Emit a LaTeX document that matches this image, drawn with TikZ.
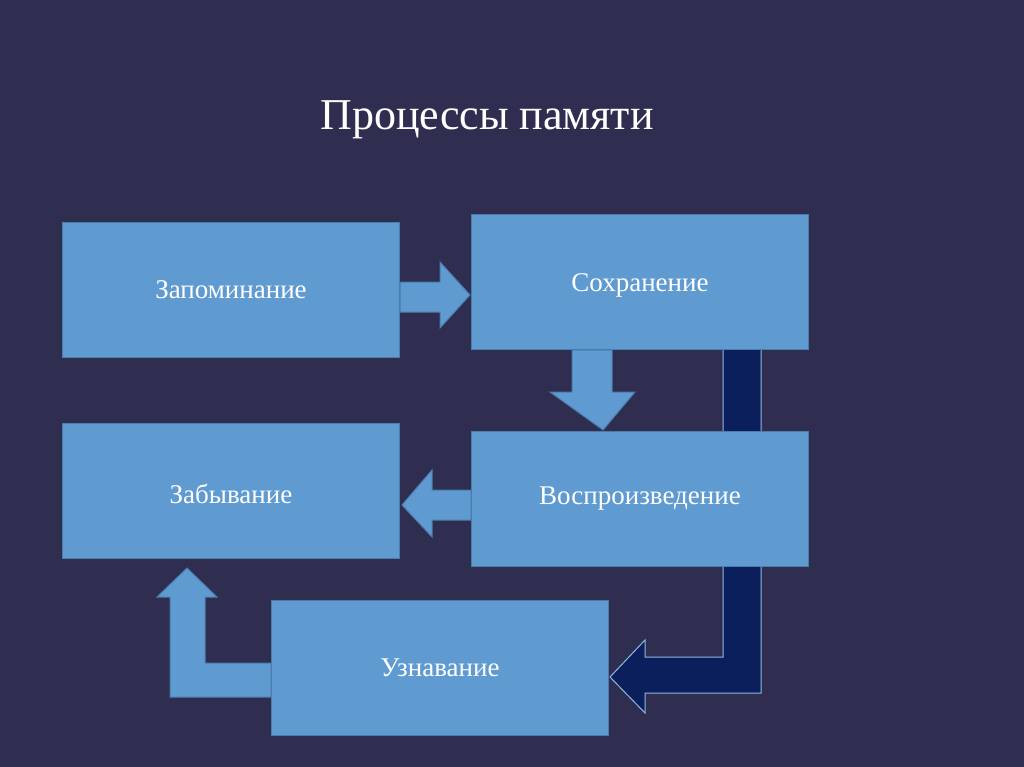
\documentclass[tikz,border=0pt]{standalone}
\usepackage{fontspec}
\setmainfont{Liberation Serif}
\usepackage{tikz}
\usetikzlibrary{calc}
\definecolor{bgnavy}{HTML}{2F2E50}
\definecolor{boxblue}{HTML}{5F9BD1}
\definecolor{boxedge}{HTML}{4A7CAD}
\definecolor{darkarrow}{HTML}{0B1F5C}
\tikzset{
  procbox/.style={draw=boxedge, line width=1pt, fill=boxblue, text=white,
    minimum width=337pt, minimum height=135pt, inner sep=0pt, font=\fontsize{27}{30}\selectfont},
  blockarrow/.style={draw=boxedge, line width=1pt, fill=boxblue},
  darkblock/.style={draw=boxblue!70, line width=1pt, fill=darkarrow}
}
\begin{document}
\begin{tikzpicture}[x=1pt,y=-1pt]
		\fill [bgnavy] (0,0) rectangle (1024,767);
		\useasboundingbox (0,0) rectangle (1024,767);
		
		\node [text=white, font=\fontsize{44}{48}\selectfont] (title) at (487,120) {Процессы памяти};
		
		% dark arrow behind the boxes
		\filldraw [darkblock] (723,345) -- (761,345) -- (761,693) -- (645,693) -- (645,713)
			-- (610,677) -- (645,640) -- (645,657) -- (723,657) -- cycle;
		
		\node [procbox] (zap) at (231,290) {Запоминание};
		\node [procbox] (soh) at (640,282) {};
		\node [procbox] (zab) at (231,491) {};
		\node [procbox] (vos) at (640,499) {Воспроизведение};
		\node [procbox] (uzn) at (440,668) {Узнавание};
		\node [text=white, font=\fontsize{27}{30}\selectfont] at (640,285) {Сохранение};
		\node [text=white, font=\fontsize{27}{30}\selectfont] at (231,494) {Забывание};
		
		% block arrows
		\filldraw [blockarrow] (zap.east |- 0,282) -- (440,282) -- (440,262) -- (470,295)
			-- (440,328) -- (440,312) -- (zap.east |- 0,312) -- cycle;
		\filldraw [blockarrow] (soh.south -| 572,0) -- (soh.south -| 612,0) -- (612,392) -- (635,392)
			-- (603,430) -- (550,392) -- (572,392) -- cycle;
		\filldraw [blockarrow] (vos.west |- 0,490) -- (432,490) -- (432,470) -- (402,505)
			-- (432,537) -- (432,520) -- (vos.west |- 0,520) -- cycle;
		\filldraw [blockarrow] (uzn.west |- 0,663) -- (205,663) -- (205,597) -- (217,597)
			-- (187,568) -- (157,597) -- (170,597) -- (170,697) -- (uzn.west |- 0,697) -- cycle;
	\end{tikzpicture}
\end{document}
